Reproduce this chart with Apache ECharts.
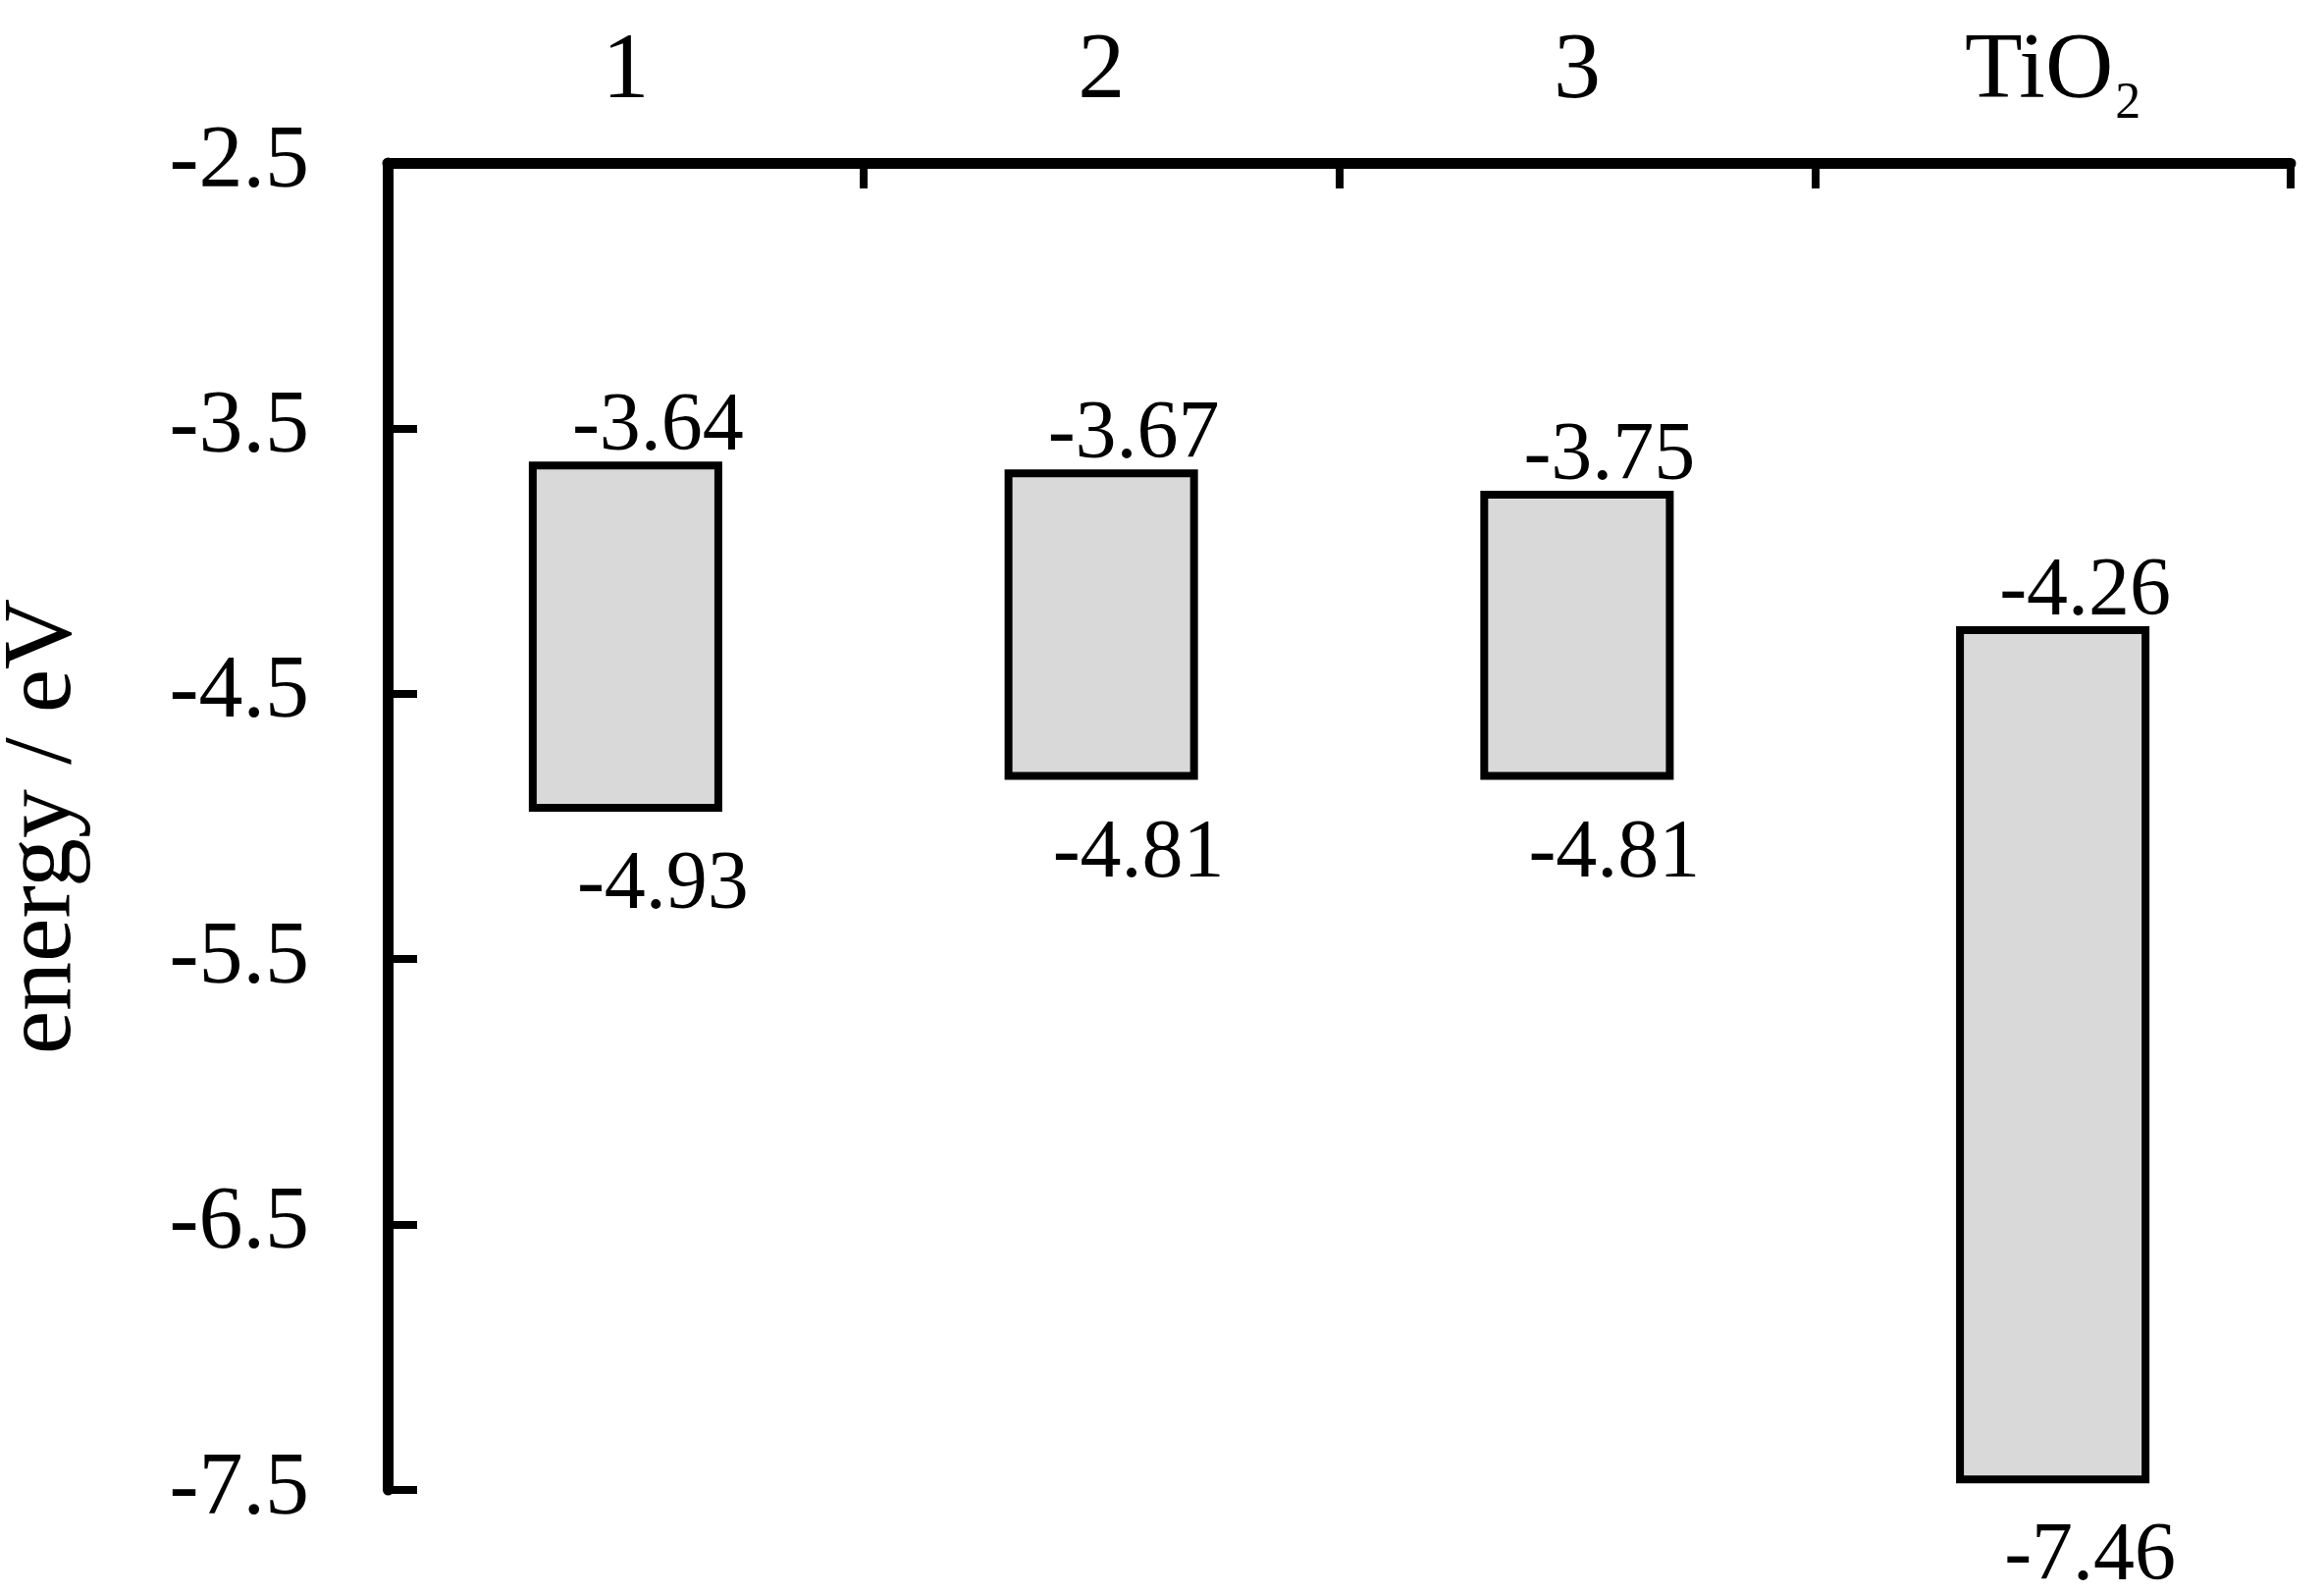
<!DOCTYPE html>
<html>
<head>
<meta charset="utf-8">
<title>energy levels</title>
<script src="https://cdn.jsdelivr.net/npm/echarts@6/dist/echarts.min.js"></script>
<style>
  html, body { margin: 0; padding: 0; background: #fff; }
  #main { width: 2368px; height: 1624px; }
</style>
</head>
<body>
<div id="main"></div>
<script>
// data
const categories = ["1", "2", "3", "TiO2"];
const upperLevel = [-3.64, -3.67, -3.75, -4.26];
const lowerLevel = [-4.93, -4.81, -4.81, -7.46];
const yTicks = [-7.5, -6.5, -5.5, -4.5, -3.5, -2.5];

const FONT = "Liberation Serif";

const chart = echarts.init(document.getElementById("main"));

const boxes = categories.map(function (c, i) {
  return [i, upperLevel[i], lowerLevel[i]];
});

function renderBox(params, api) {
  const i = api.value(0);
  const top = api.value(1);
  const bot = api.value(2);
  const p1 = api.coord([i, top]);
  const p2 = api.coord([i, bot]);
  const w = api.size([1, 0])[0] * 0.39;
  return {
    type: "group",
    children: [
      {
        type: "rect",
        shape: { x: p1[0] - w / 2, y: p1[1], width: w, height: p2[1] - p1[1] },
        style: { fill: "#d9d9d9", stroke: "#000", lineWidth: 8 }
      },
      {
        type: "text",
        x: p1[0] + 33,
        y: p1[1] + 4,
        style: {
          text: top.toFixed(2),
          fill: "#000",
          fontSize: 84,
          fontFamily: FONT,
          align: "center",
          verticalAlign: "bottom"
        }
      },
      {
        type: "text",
        x: p2[0] + 38,
        y: p2[1] + 80,
        style: {
          text: bot.toFixed(2),
          fill: "#000",
          fontSize: 84,
          fontFamily: FONT,
          align: "center",
          verticalAlign: "middle"
        }
      }
    ]
  };
}

const option = {
  animation: false,
  backgroundColor: "#fff",
  grid: {
    left: 395, right: 34, top: 166, bottom: 106,
    containLabel: false,
    outerBoundsMode: "none"
  },
  xAxis: {
    type: "category",
    position: "top",
    data: categories,
    axisLine: { lineStyle: { color: "#000", width: 11 } },
    axisTick: { show: true, interval: 0, inside: true, length: 26, lineStyle: { color: "#000", width: 8 } },
    axisLabel: {
      interval: 0,
      hideOverlap: false,
      margin: 44,
      color: "#000",
      fontSize: 96,
      lineHeight: 96,
      fontFamily: FONT,
      formatter: function (v) {
        return v === "TiO2" ? "TiO{sub|2}" : v;
      },
      rich: {
        sub: {
          fontSize: 52, lineHeight: 20, verticalAlign: "top",
          padding: [54, 0, 0, 2], fontFamily: FONT, color: "#000"
        }
      }
    },
    splitLine: { show: false }
  },
  yAxis: {
    type: "value",
    min: -7.5,
    max: -2.5,
    name: "energy / eV",
    nameLocation: "middle",
    nameGap: 300,
    nameTextStyle: { color: "#000", fontSize: 100, fontFamily: FONT },
    axisLine: { show: true, lineStyle: { color: "#000", width: 11 } },
    axisTick: { show: true, inside: true, length: 30, customValues: yTicks, lineStyle: { color: "#000", width: 8 } },
    axisLabel: {
      margin: 80,
      color: "#000",
      fontSize: 90,
      fontFamily: FONT,
      customValues: yTicks,
      formatter: function (v) { return v.toFixed(1); }
    },
    splitLine: { show: false }
  },
  series: [
    {
      type: "custom",
      renderItem: renderBox,
      encode: { x: 0, y: [1, 2] },
      data: boxes,
      clip: false
    }
  ]
};

chart.setOption(option);
</script>
</body>
</html>
